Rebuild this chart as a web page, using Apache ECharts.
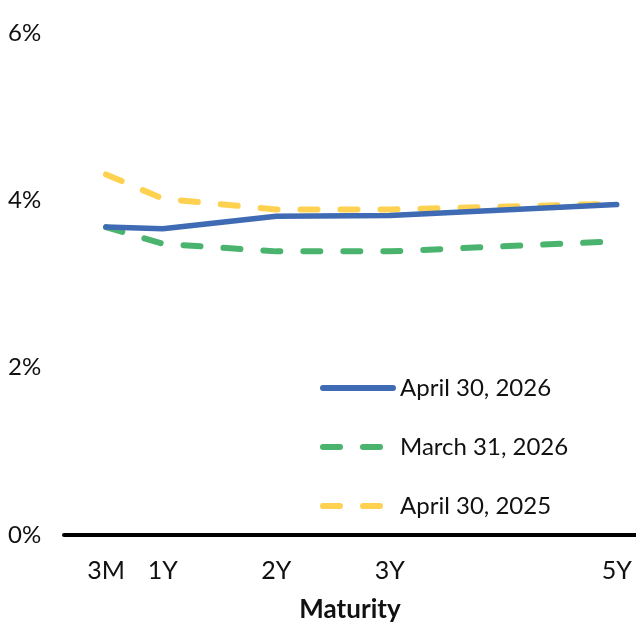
<!DOCTYPE html>
<html>
<head>
<meta charset="utf-8">
<script src="https://cdn.jsdelivr.net/npm/echarts@6/dist/echarts.min.js"></script>
<style>
html, body { margin: 0; padding: 0; background: #fff; }
#chart { width: 636px; height: 625px; }
</style>
</head>
<body>
<div id="chart"></div>
<script>
// maturities, placed on a year scale (3M sits half a year before 1Y in the original)
var maturities = ['3M', '1Y', '2Y', '3Y', '5Y'];
var maturityPos = [0.5, 1, 2, 3, 5];
var seriesNames = ['April 30, 2026', 'March 31, 2026', 'April 30, 2025'];
var apr2026 = [3.68, 3.66, 3.81, 3.82, 3.95];
var mar2026 = [3.68, 3.48, 3.39, 3.39, 3.51];
var apr2025 = [4.31, 4.02, 3.89, 3.89, 3.96];
var yTicks = [0, 2, 4, 6];

var FONT = 'Lato';

function pairs(vals) {
    return maturityPos.map(function (x, i) { return [x, vals[i]]; });
}

var chart = echarts.init(document.getElementById('chart'));
chart.setOption({
    animation: false,
    textStyle: { fontFamily: FONT },
    grid: { left: 64, right: 0, top: 33, bottom: 90, outerBoundsMode: 'none' },
    legend: {
        orient: 'vertical',
        left: 315,
        top: 371,
        itemWidth: 70,
        itemHeight: 6,
        itemGap: 35,
        itemStyle: { opacity: 0 },
        lineStyle: { width: 6, cap: 'round' },
        textStyle: { fontFamily: FONT, fontSize: 24, color: '#111', padding: [0, 0, 0, 2] },
        data: seriesNames
    },
    xAxis: {
        type: 'value',
        min: 0.13,
        max: 5.17,
        name: 'Maturity',
        nameLocation: 'middle',
        nameGap: 62,
        nameTextStyle: { fontFamily: FONT, fontSize: 26, fontWeight: 'bold', color: '#111' },
        axisLine: { show: true, onZero: false, lineStyle: { color: '#000', width: 4 } },
        axisTick: { show: false },
        splitLine: { show: false },
        axisLabel: {
            customValues: maturityPos,
            margin: 23,
            fontSize: 25,
            color: '#111',
            fontFamily: FONT,
            formatter: function (v) {
                var i = maturityPos.indexOf(v);
                return i >= 0 ? maturities[i] : '';
            }
        }
    },
    yAxis: {
        type: 'value',
        min: 0,
        max: 6,
        interval: 2,
        axisLine: { show: false },
        axisTick: { show: false },
        splitLine: { show: false },
        axisLabel: {
            align: 'left',
            margin: 56,
            fontSize: 24,
            color: '#111',
            fontFamily: FONT,
            formatter: function (v) { return yTicks.indexOf(v) >= 0 ? v + '%' : ''; }
        }
    },
    series: [
        {
            name: seriesNames[2],
            type: 'line',
            symbol: 'none',
            z: 1,
            lineStyle: { color: '#FFD150', width: 6, type: [17, 23], cap: 'round' },
            itemStyle: { color: '#FFD150' },
            data: pairs(apr2025)
        },
        {
            name: seriesNames[1],
            type: 'line',
            symbol: 'none',
            z: 2,
            lineStyle: { color: '#4AB46F', width: 6, type: [17, 23], cap: 'round' },
            itemStyle: { color: '#4AB46F' },
            data: pairs(mar2026)
        },
        {
            name: seriesNames[0],
            type: 'line',
            symbol: 'none',
            z: 3,
            lineStyle: { color: '#3F6AB4', width: 5.5, cap: 'round' },
            itemStyle: { color: '#3F6AB4' },
            data: pairs(apr2026)
        }
    ]
});
</script>
</body>
</html>
